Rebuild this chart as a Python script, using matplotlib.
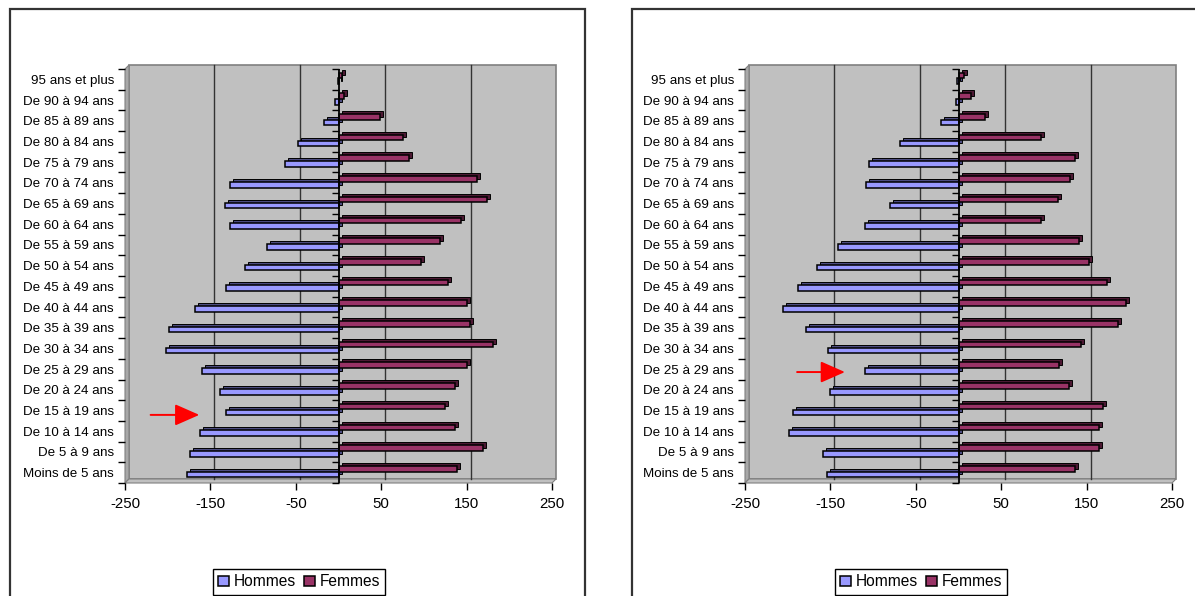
import matplotlib
matplotlib.use("Agg")
import matplotlib.pyplot as plt
import matplotlib.transforms as mtransforms
from matplotlib.patches import Rectangle, Polygon, ArrowStyle
import numpy as np

plt.rcParams['font.family'] = ['Liberation Sans', 'DejaVu Sans']

# ---------------- data ----------------
categories = ["Moins de 5 ans", "De 5 à 9 ans", "De 10 à 14 ans", "De 15 à 19 ans",
              "De 20 à 24 ans", "De 25 à 29 ans", "De 30 à 34 ans", "De 35 à 39 ans",
              "De 40 à 44 ans", "De 45 à 49 ans", "De 50 à 54 ans", "De 55 à 59 ans",
              "De 60 à 64 ans", "De 65 à 69 ans", "De 70 à 74 ans", "De 75 à 79 ans",
              "De 80 à 84 ans", "De 85 à 89 ans", "De 90 à 94 ans", "95 ans et plus"]

hommes_gauche = [-177, -174, -162, -132, -139, -160, -202, -198, -168, -132,
                 -110, -84, -127, -133, -127, -63, -47, -17, -4, -1]
femmes_gauche = [139, 169, 137, 125, 136, 150, 181, 154, 151, 128,
                 97, 119, 143, 174, 162, 82, 75, 49, 7, 4]

hommes_droite = [-154, -159, -198, -194, -150, -109, -153, -179, -206, -188,
                 -166, -141, -110, -80, -108, -105, -69, -20, -3, -2]
femmes_droite = [137, 164, 165, 169, 129, 118, 144, 187, 196, 174,
                 153, 141, 97, 117, 131, 137, 97, 31, 15, 7]

series_names = ["Hommes", "Femmes"]
xticks = [-250, -150, -50, 50, 150, 250]
gridvals = [-150, -50, 50, 150]

# ---------------- styling ----------------
W, H = 1195, 596
C_H, C_H_TOP = '#9999FF', '#4C4C80'
C_F, C_F_TOP = '#993366', '#4C1933'
WALL = '#C0C0C0'
DEPTH = 4      # px wall depth
BDEPTH = 3     # px bar depth

fig = plt.figure(figsize=(W / 100, H / 100), dpi=100)
pxT = mtransforms.Affine2D().scale(1 / W, 1 / H) + fig.transFigure


def Y(y):
    return H - y


def panel(x0, x1, y0, y1, hommes, femmes, box_x0, box_x1, leg_x, arrow):
    ax = fig.add_axes([x0 / W, (H - y1) / H, (x1 - x0) / W, (y1 - y0) / H])
    ax.set_xlim(-250, 250)
    ax.set_ylim(-0.5, len(categories) - 0.5)
    ax.patch.set_visible(False)
    for s in ax.spines.values():
        s.set_visible(False)

    off_wall = mtransforms.ScaledTranslation(DEPTH / 100, DEPTH / 100, fig.dpi_scale_trans)
    off_bar = mtransforms.ScaledTranslation(BDEPTH / 100, BDEPTH / 100, fig.dpi_scale_trans)

    # back wall
    ax.add_patch(Rectangle((0, 0), 1, 1, transform=ax.transAxes + off_wall,
                           facecolor=WALL, edgecolor='#808080', lw=1.2,
                           zorder=0, clip_on=False))
    # side wall
    ax.add_patch(Polygon([(x0, Y(y1)), (x0, Y(y0)), (x0 + DEPTH, Y(y0 - DEPTH)),
                          (x0 + DEPTH, Y(y1 - DEPTH))], closed=True,
                         transform=pxT, facecolor='#A8A8A8', edgecolor='#808080',
                         lw=0.8, zorder=0.5, clip_on=False))
    # floor
    ax.add_patch(Polygon([(x0, Y(y1)), (x1, Y(y1)), (x1 + DEPTH, Y(y1 - DEPTH)),
                          (x0 + DEPTH, Y(y1 - DEPTH))], closed=True,
                         transform=pxT, facecolor=WALL, edgecolor='#808080',
                         lw=0.8, zorder=0.5, clip_on=False))
    # gridlines on back wall
    gtr = ax.get_xaxis_transform() + off_wall
    for v in gridvals:
        ax.plot([v, v], [0, 1], transform=gtr, color='#333333', lw=1.0,
                zorder=1, clip_on=False)

    y = np.arange(len(categories))
    yh = y - 0.09
    yf = y + 0.19
    bh = 0.27
    sh = ax.barh(yh, hommes, height=bh, color=C_H_TOP, edgecolor='black', lw=0.7, zorder=2)
    sf = ax.barh(yf, femmes, height=bh, color=C_F_TOP, edgecolor='black', lw=0.7, zorder=2)
    for p in list(sh) + list(sf):
        p.set_transform(ax.transData + off_bar)
        p.set_clip_on(False)
    bhm = ax.barh(yh, hommes, height=bh, color=C_H, edgecolor='black', lw=1.1,
                  zorder=3, label=series_names[0])
    bfm = ax.barh(yf, femmes, height=bh, color=C_F, edgecolor='black', lw=1.1,
                  zorder=3, label=series_names[1])

    # zero axis line with category ticks
    ax.axvline(0, color='black', lw=1.3, zorder=4)
    bounds = np.arange(-0.5, len(categories), 1.0)
    ax.plot(np.zeros_like(bounds), bounds, linestyle='none', marker=0,
            markersize=5, color='black', markeredgewidth=1.0, zorder=4, clip_on=False)

    # left axis: labels at centers, ticks at boundaries
    ax.set_yticks(y)
    ax.set_yticklabels(categories, fontsize=9.6)
    ax.set_yticks(bounds, minor=True)
    ax.tick_params(axis='y', which='major', length=0, pad=8)
    ax.tick_params(axis='y', which='minor', length=5, width=1.0, color='black')

    ax.set_xticks(xticks)
    ax.set_xticklabels([str(v) for v in xticks], fontsize=10.8)
    ax.tick_params(axis='x', length=5, width=1.0, color='black', pad=5)

    # arrow annotation
    (tx, ty), (hx, hy) = arrow
    ax.annotate('', xy=(hx, hy), xytext=(tx, ty), xycoords='data',
                arrowprops=dict(arrowstyle=ArrowStyle('-|>', head_length=0.75, head_width=0.33),
                                color='#FF0000', lw=1.4, mutation_scale=20,
                                shrinkA=0, shrinkB=0),
                zorder=6, annotation_clip=False)

    # outer chart box
    fig.add_artist(Rectangle((box_x0, Y(700)), box_x1 - box_x0, 700 - 9,
                             transform=pxT, fill=False, edgecolor='#333333', lw=1.6))

    leg = fig.legend([bhm, bfm], series_names, loc='upper left',
                     bbox_to_anchor=(leg_x / W, 1 - 569 / H), ncol=2,
                     frameon=True, fancybox=False, edgecolor='black', framealpha=1,
                     fontsize=11.2, handlelength=0.7, handleheight=0.7,
                     handletextpad=0.3, columnspacing=0.5, borderpad=0.35,
                     borderaxespad=0)
    leg.get_frame().set_linewidth(1.0)
    return ax


panel(125, 552, 69, 483, hommes_gauche, femmes_gauche, 10, 585, 213,
      ((-220, 2.79), (-163, 2.79)))
panel(745, 1172, 69, 483, hommes_droite, femmes_droite, 632, 1300, 835,
      ((-189, 4.86), (-133, 4.86)))

fig.savefig('out.png', dpi=100)
